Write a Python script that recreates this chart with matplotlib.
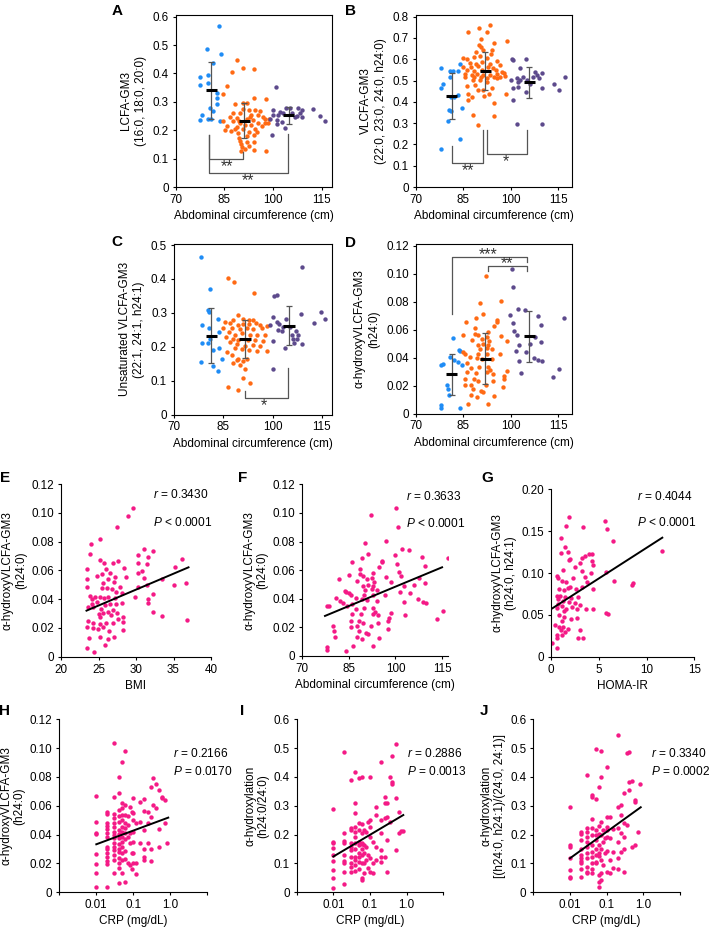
import numpy as np
import matplotlib
matplotlib.use('Agg')
import matplotlib.pyplot as plt
from matplotlib.ticker import NullLocator

plt.rcParams['font.family'] = ['Liberation Sans', 'DejaVu Sans']
plt.rcParams['mathtext.fontset'] = 'custom'
plt.rcParams['mathtext.rm'] = 'Liberation Sans'
plt.rcParams['mathtext.it'] = 'Liberation Sans:italic'

# ---- data ---------------------------------------------------------------
# A: LCFA-GM3 vs abdominal circumference, three waist groups
a_blue = [(83.5, 0.567), (79.6, 0.485), (83.9, 0.468), (81.6, 0.438), (77.5, 0.386), (80.1, 0.393),
          (77.5, 0.359), (80.1, 0.365), (82.8, 0.332), (82.6, 0.314), (82.8, 0.292), (80.6, 0.280),
          (81.4, 0.268), (78.1, 0.252), (80.1, 0.241), (80.8, 0.241), (77.5, 0.235), (83.7, 0.232)]
a_orange = [(88.8, 0.449), (87.5, 0.404), (90.6, 0.418), (94.1, 0.414), (85.9, 0.355), (84.5, 0.329),
            (94.1, 0.315), (98.0, 0.309), (90.6, 0.296), (92.0, 0.296), (88.2, 0.292), (90.8, 0.276),
            (92.7, 0.271), (94.4, 0.273), (96.0, 0.268), (87.7, 0.262), (89.7, 0.259), (93.3, 0.255),
            (95.3, 0.253), (96.8, 0.247), (98.9, 0.241), (86.7, 0.247), (89.0, 0.244), (91.9, 0.238),
            (93.9, 0.235), (95.5, 0.226), (97.5, 0.224), (87.8, 0.233), (84.5, 0.233), (89.7, 0.226),
            (91.3, 0.218), (93.3, 0.218), (85.7, 0.214), (88.8, 0.212), (90.8, 0.206), (94.4, 0.206),
            (96.5, 0.214), (98.5, 0.224), (85.1, 0.202), (86.9, 0.196), (89.2, 0.191), (92.6, 0.194),
            (95.1, 0.194), (89.5, 0.174), (92.0, 0.179), (94.1, 0.182), (89.8, 0.162), (91.9, 0.159),
            (94.1, 0.159), (90.0, 0.151), (92.6, 0.144), (90.5, 0.141), (91.5, 0.134), (94.2, 0.129),
            (90.0, 0.126), (98.0, 0.126), (88.2, 0.206), (92.8, 0.245), (97.5, 0.238), (89.5, 0.233)]
a_purple = [(100.9, 0.351), (104.0, 0.280), (105.2, 0.280), (100.1, 0.271), (102.1, 0.264), (101.6, 0.253),
            (103.0, 0.259), (99.1, 0.241), (101.1, 0.235), (102.7, 0.229), (101.3, 0.221), (106.0, 0.259),
            (107.3, 0.249), (108.3, 0.259), (108.8, 0.271), (108.9, 0.245), (107.8, 0.280), (103.7, 0.209),
            (99.6, 0.182), (112.4, 0.276), (114.5, 0.249), (116.0, 0.232), (106.7, 0.245), (99.9, 0.253)]
a_pos = [80.9, 91.1, 104.8]
a_mean = [0.340, 0.233, 0.252]
a_sd = [0.099, 0.062, 0.029]
a_brackets = [(80.2, 90.8, 0.182, 0.097, 0.124), (80.2, 104.5, 0.182, 0.051, 0.188)]
a_stars = [(85.7, 0.071, '**'), (92.4, 0.023, '**')]

# B: VLCFA-GM3
b_blue = [(78.0, 0.560), (78.5, 0.486), (78.0, 0.463), (80.8, 0.543), (81.9, 0.544), (83.5, 0.546),
          (84.0, 0.580), (80.8, 0.518), (81.0, 0.424), (82.1, 0.424), (83.5, 0.431), (80.6, 0.361),
          (81.0, 0.356), (80.1, 0.311), (84.7, 0.373), (84.0, 0.224), (78.0, 0.180)]
b_orange = [(93.4, 0.761), (90.1, 0.745), (86.4, 0.726), (92.4, 0.729), (90.6, 0.693), (94.7, 0.678),
            (98.7, 0.687), (89.9, 0.667), (90.6, 0.656), (89.1, 0.635), (91.1, 0.643), (94.2, 0.643),
            (93.7, 0.624), (88.5, 0.612), (90.3, 0.615), (85.0, 0.604), (86.1, 0.599), (92.4, 0.604),
            (95.8, 0.591), (87.1, 0.584), (89.0, 0.577), (90.8, 0.588), (93.4, 0.580), (85.0, 0.565),
            (87.6, 0.565), (89.8, 0.568), (92.9, 0.565), (94.5, 0.557), (96.6, 0.573), (86.3, 0.549),
            (88.4, 0.546), (90.8, 0.549), (95.2, 0.549), (97.1, 0.541), (85.6, 0.530), (87.7, 0.525),
            (89.2, 0.530), (91.3, 0.525), (93.4, 0.525), (95.6, 0.533), (97.7, 0.536), (98.2, 0.521),
            (85.6, 0.515), (88.4, 0.515), (90.5, 0.515), (92.6, 0.510), (94.7, 0.515), (96.6, 0.515),
            (88.2, 0.505), (90.3, 0.502), (92.4, 0.494), (95.6, 0.510), (88.7, 0.478), (94.2, 0.463),
            (86.6, 0.439), (86.6, 0.411), (87.7, 0.424), (91.6, 0.428), (93.0, 0.435), (98.5, 0.435),
            (88.2, 0.337), (94.7, 0.395), (94.7, 0.333), (89.6, 0.290), (86.1, 0.474), (89.8, 0.455),
            (91.3, 0.458)]
b_purple = [(100.3, 0.599), (100.8, 0.596), (102.9, 0.557), (104.8, 0.599), (107.6, 0.541), (108.2, 0.525),
            (109.7, 0.536), (109.0, 0.510), (106.9, 0.515), (100.0, 0.505), (101.9, 0.510), (102.4, 0.494),
            (102.9, 0.502), (104.0, 0.518), (106.1, 0.486), (104.8, 0.447), (100.8, 0.467), (102.4, 0.471),
            (109.7, 0.463), (100.8, 0.408), (113.6, 0.486), (115.3, 0.455), (117.1, 0.518), (101.9, 0.298),
            (109.7, 0.295), (105.0, 0.502)]
b_pos = [81.4, 91.9, 105.8]
b_mean = [0.428, 0.546, 0.491]
b_sd = [0.109, 0.088, 0.075]
b_brackets = [(81.4, 91.3, 0.193, 0.115, 0.267), (92.4, 105.0, 0.267, 0.157, 0.267)]
b_stars = [(86.4, 0.078, '**'), (98.4, 0.117, '*')]

# C: unsaturated VLCFA-GM3
c_blue = [(78.2, 0.466), (81.0, 0.370), (83.5, 0.281), (80.5, 0.308), (80.7, 0.301), (83.8, 0.242),
          (78.4, 0.210), (80.3, 0.210), (81.0, 0.222), (82.0, 0.190), (83.8, 0.197), (84.5, 0.163),
          (78.2, 0.154), (82.0, 0.142), (83.5, 0.129), (80.8, 0.254), (78.6, 0.265)]
c_orange = [(86.4, 0.404), (88.3, 0.392), (94.5, 0.357), (89.6, 0.293), (88.1, 0.279), (90.9, 0.281),
            (92.7, 0.279), (94.2, 0.279), (85.5, 0.274), (87.1, 0.269), (89.4, 0.264), (91.1, 0.266),
            (92.9, 0.266), (95.0, 0.269), (96.2, 0.264), (98.3, 0.262), (85.0, 0.254), (87.6, 0.254),
            (90.1, 0.252), (92.2, 0.254), (94.2, 0.252), (96.7, 0.254), (86.7, 0.242), (88.7, 0.236),
            (90.8, 0.239), (93.2, 0.234), (95.2, 0.234), (97.7, 0.236), (85.9, 0.229), (88.1, 0.222),
            (89.6, 0.219), (92.4, 0.219), (94.7, 0.219), (97.2, 0.217), (87.1, 0.213), (89.3, 0.207),
            (91.6, 0.203), (94.0, 0.205), (96.2, 0.203), (88.5, 0.195), (90.6, 0.193), (92.7, 0.190),
            (95.2, 0.187), (98.3, 0.188), (86.1, 0.185), (87.6, 0.175), (89.6, 0.165), (92.2, 0.163),
            (89.1, 0.160), (91.1, 0.157), (88.1, 0.151), (90.1, 0.146), (91.6, 0.133), (91.1, 0.108),
            (93.0, 0.094), (89.6, 0.072), (86.4, 0.080)]
c_purple = [(108.9, 0.434), (100.5, 0.350), (101.3, 0.354), (114.7, 0.303), (108.7, 0.297), (116.0, 0.281),
            (112.5, 0.271), (100.1, 0.288), (104.1, 0.281), (101.5, 0.272), (102.1, 0.268), (99.3, 0.264),
            (103.1, 0.259), (105.4, 0.259), (102.8, 0.246), (107.2, 0.246), (107.9, 0.234), (105.9, 0.236),
            (106.2, 0.224), (107.4, 0.222), (108.9, 0.207), (100.1, 0.217), (106.4, 0.210), (100.1, 0.134),
            (103.8, 0.195), (101.8, 0.249)]
c_pos = [81.3, 91.6, 105.0]
c_mean = [0.232, 0.224, 0.262]
c_sd = [0.081, 0.056, 0.058]
c_brackets = [(91.6, 104.6, 0.070, 0.050, 0.136)]
c_stars = [(97.4, 0.027, '*')]

# D: alpha-hydroxy VLCFA-GM3 (h24:0) -- same subjects are shown in pink in F
d_blue = [(78.0, 0.0349), (78.5, 0.0352), (81.9, 0.0539), (83.8, 0.0456), (84.0, 0.0448), (80.8, 0.0404),
          (82.1, 0.0385), (83.2, 0.0368), (84.5, 0.0349), (79.8, 0.0207), (80.3, 0.0178), (80.5, 0.0135),
          (78.0, 0.0064), (78.0, 0.0040), (84.0, 0.0036)]
d_orange = [(92.2, 0.0986), (90.3, 0.0789), (96.8, 0.0801), (91.1, 0.0713), (89.1, 0.0682), (85.9, 0.0654),
            (95.8, 0.0665), (95.8, 0.0654), (88.6, 0.0611), (94.7, 0.0623), (92.7, 0.0582), (88.6, 0.0570),
            (85.0, 0.0563), (96.9, 0.0551), (89.5, 0.0558), (90.8, 0.0535), (92.4, 0.0547), (98.7, 0.0518),
            (87.7, 0.0523), (93.2, 0.0518), (89.5, 0.0492), (91.3, 0.0499), (92.9, 0.0492), (85.0, 0.0440),
            (85.6, 0.0428), (90.3, 0.0463), (92.4, 0.0468), (94.0, 0.0459), (89.8, 0.0428), (92.6, 0.0428),
            (96.6, 0.0428), (87.2, 0.0404), (89.3, 0.0397), (90.9, 0.0392), (94.0, 0.0387), (86.1, 0.0364),
            (87.4, 0.0326), (89.9, 0.0333), (92.9, 0.0333), (93.4, 0.0309), (92.6, 0.0297), (98.7, 0.0302),
            (86.1, 0.0297), (88.9, 0.0292), (94.5, 0.0285), (88.4, 0.0245), (89.5, 0.0233), (85.6, 0.0245),
            (94.5, 0.0231), (97.9, 0.0269), (97.7, 0.0245), (87.5, 0.0207), (88.1, 0.0178), (85.6, 0.0202),
            (90.5, 0.0162), (92.2, 0.0207), (97.6, 0.0188), (87.5, 0.0135), (89.3, 0.0119), (91.3, 0.0154),
            (94.8, 0.0124), (86.4, 0.0071), (92.9, 0.0071)]
d_purple = [(100.3, 0.1034), (100.8, 0.0903), (99.8, 0.0706), (102.2, 0.0749), (104.5, 0.0741), (100.6, 0.0646),
            (101.0, 0.0587), (101.9, 0.0558), (108.5, 0.0694), (109.4, 0.0630), (116.8, 0.0682), (102.7, 0.0492),
            (101.6, 0.0444), (106.1, 0.0499), (107.5, 0.0547), (109.4, 0.0511), (104.8, 0.0440), (107.3, 0.0397),
            (108.7, 0.0380), (109.7, 0.0373), (102.7, 0.0375), (103.1, 0.0290), (113.4, 0.0261), (115.3, 0.0316)]
d_pos = [81.4, 91.9, 105.8]
d_mean = [0.0280, 0.0392, 0.0551]
d_sd = [0.0147, 0.0182, 0.0184]
d_brackets = [(81.4, 105.0, 0.0708, 0.1122, 0.1081), (92.7, 105.0, 0.1022, 0.1058, 0.1022)]
d_stars = [(92.7, 0.1134, '***'), (98.7, 0.1070, '**')]

# E: vs BMI
e_pts = [(29.6, 0.1031), (28.9, 0.0978), (27.5, 0.0899), (25.2, 0.0815), (24.0, 0.0781), (23.8, 0.0713),
         (31.1, 0.0746), (32.2, 0.0737), (30.3, 0.0707), (31.6, 0.0690), (25.2, 0.0672), (25.7, 0.0653),
         (27.6, 0.0667), (26.9, 0.0653), (36.1, 0.0676), (28.4, 0.0618), (26.0, 0.0607), (23.4, 0.0607),
         (30.2, 0.0649), (31.4, 0.0644), (35.2, 0.0621), (25.4, 0.0574), (26.5, 0.0584), (30.2, 0.0584),
         (24.8, 0.0561), (28.7, 0.0551), (30.8, 0.0598), (26.3, 0.0540), (27.0, 0.0521), (25.6, 0.0510),
         (23.4, 0.0537), (27.2, 0.0556), (35.0, 0.0498), (36.7, 0.0510), (33.5, 0.0537), (31.0, 0.0544),
         (23.4, 0.0486), (25.4, 0.0475), (26.1, 0.0475), (26.8, 0.0468), (27.3, 0.0452), (27.8, 0.0486),
         (30.2, 0.0486), (31.4, 0.0498), (28.1, 0.0440), (31.6, 0.0398), (31.6, 0.0371), (32.2, 0.0435),
         (29.9, 0.0417), (23.8, 0.0422), (24.5, 0.0417), (24.1, 0.0398), (25.2, 0.0417), (25.7, 0.0405),
         (26.3, 0.0417), (27.2, 0.0405), (28.1, 0.0371), (24.1, 0.0366), (24.8, 0.0382), (25.9, 0.0359),
         (26.5, 0.0366), (27.3, 0.0366), (24.3, 0.0347), (25.3, 0.0329), (26.2, 0.0313), (26.9, 0.0324),
         (23.6, 0.0343), (32.2, 0.0313), (33.4, 0.0285), (25.1, 0.0296), (25.6, 0.0301), (26.6, 0.0290),
         (27.4, 0.0306), (28.2, 0.0278), (23.6, 0.0250), (24.2, 0.0236), (25.2, 0.0227), (26.0, 0.0232),
         (26.9, 0.0236), (27.6, 0.0259), (28.2, 0.0243), (36.8, 0.0255), (23.5, 0.0204), (24.3, 0.0197),
         (24.9, 0.0190), (25.6, 0.0208), (26.4, 0.0181), (28.2, 0.0185), (23.7, 0.0132), (25.2, 0.0139),
         (26.2, 0.0120), (27.0, 0.0134), (25.8, 0.0081), (23.5, 0.0058), (24.4, 0.0035), (25.2, 0.0278)]
e_fit = ([23.4, 37.0], [0.0320, 0.0621])
e_stats = ['$\\mathit{r}$ = 0.3430', '$\\mathit{P}$ < 0.0001']

f_fit = ([77.3, 115.0], [0.0280, 0.0620])
f_stats = ['$\\mathit{r}$ = 0.3633', '$\\mathit{P}$ < 0.0001']

# G: vs HOMA-IR
g_pts = [(1.9, 0.1665), (1.6, 0.1562), (5.65, 0.1625), (3.3, 0.1546), (1.05, 0.1422), (5.9, 0.1526),
         (6.5, 0.1386), (1.5, 0.1315), (1.8, 0.1255), (1.05, 0.1243), (4.25, 0.1227), (3.97, 0.1227),
         (3.6, 0.1203), (1.9, 0.1155), (2.0, 0.1163), (3.2, 0.1175), (4.3, 0.1147), (3.0, 0.1124),
         (4.35, 0.1096), (11.65, 0.1263), (0.6, 0.0964), (0.77, 0.0944), (1.1, 0.0904), (1.6, 0.0896),
         (2.3, 0.0944), (2.5, 0.1076), (3.2, 0.1028), (3.6, 0.0956), (4.2, 0.1004), (1.3, 0.1036),
         (3.8, 0.0896), (6.6, 0.0904), (5.8, 0.1016), (4.4, 0.0805), (8.6, 0.0884), (8.5, 0.0857),
         (0.87, 0.0805), (1.4, 0.0797), (2.0, 0.0829), (1.75, 0.0817), (2.6, 0.0805), (3.2, 0.0837),
         (0.6, 0.0725), (0.94, 0.0725), (1.46, 0.0717), (2.1, 0.0697), (2.8, 0.0717), (0.77, 0.0685),
         (1.3, 0.0669), (1.9, 0.0657), (2.5, 0.0645), (3.0, 0.0618), (0.7, 0.0629), (1.1, 0.0606),
         (1.6, 0.0566), (0.6, 0.0578), (1.4, 0.0550), (2.2, 0.0598), (2.7, 0.0566), (3.7, 0.0566),
         (4.4, 0.0570), (5.8, 0.0526), (6.0, 0.0510), (0.87, 0.0498), (1.4, 0.0478), (2.1, 0.0450),
         (2.7, 0.0458), (1.1, 0.0430), (0.4, 0.0378), (0.84, 0.0359), (1.3, 0.0351), (1.8, 0.0327),
         (3.0, 0.0319), (1.05, 0.0319), (1.46, 0.0299), (0.6, 0.0259), (1.2, 0.0259), (2.8, 0.0227),
         (3.3, 0.0227), (0.6, 0.0227), (0.14, 0.0167), (0.6, 0.0100)]
g_fit = ([0.14, 11.65], [0.0578, 0.1422])
g_stats = ['$\\mathit{r}$ = 0.4044', '$\\mathit{P}$ < 0.0001']

# H: h24:0 vs CRP
h_crp = [0.01] * 8 + [0.02] * 14 + [0.03] * 15 + [0.04] * 15 + [0.05] * 13 + [0.06] * 10 + \
        [0.07] * 4 + [0.08] * 4 + [0.09] * 3 + [0.1] * 7 + [0.12] * 3 + [0.15] * 3 + [0.2] * 6 + \
        [0.25] * 3 + [0.3] * 4 + [0.35] * 2 + [0.4] * 2 + [0.5] * 3 + [0.6] * 2 + [0.7] * 2 + [0.8]
h_val = [0.0668, 0.049, 0.0414, 0.0405, 0.0264, 0.0197, 0.0136, 0.0039,
         0.056, 0.0541, 0.0479, 0.046, 0.0437, 0.0414, 0.0386, 0.0317, 0.0298, 0.0271, 0.0247, 0.022, 0.0197, 0.0035,
         0.1034, 0.0659, 0.0543, 0.0513, 0.0479, 0.0451, 0.0421, 0.0398, 0.0375, 0.0345, 0.0317, 0.0294, 0.0259, 0.0224, 0.0136,
         0.0798, 0.0691, 0.0571, 0.0529, 0.049, 0.0432, 0.0405, 0.0375, 0.0335, 0.0298, 0.0277, 0.0236, 0.0201, 0.0171, 0.0067,
         0.0906, 0.0622, 0.0583, 0.0536, 0.0502, 0.0451, 0.0421, 0.0386, 0.0351, 0.0317, 0.0275, 0.0224, 0.0136,
         0.0983, 0.0606, 0.0536, 0.0479, 0.0444, 0.0409, 0.0368, 0.0289, 0.0229, 0.0074,
         0.0529, 0.0467, 0.0386, 0.0201,
         0.059, 0.0409, 0.0345, 0.019,
         0.056, 0.0271, 0.016,
         0.0652, 0.0548, 0.0502, 0.0421, 0.0351, 0.0271, 0.0206,
         0.0479, 0.0206, 0.0127,
         0.0629, 0.049, 0.034,
         0.0645, 0.0566, 0.0432, 0.0298, 0.0247, 0.0224,
         0.0557, 0.0479, 0.034,
         0.0733, 0.0525, 0.0298, 0.022,
         0.0791, 0.0606,
         0.0751, 0.0583,
         0.071, 0.0437, 0.0317,
         0.0664, 0.0652,
         0.064, 0.0479,
         0.0345]
h_fit = ([0.01, 0.88], [0.0333, 0.0518])
h_stats = ['$\\mathit{r}$ = 0.2166', '$\\mathit{P}$ = 0.0170']

# I: alpha-hydroxylation (h24:0/24:0) vs CRP
i_crp = [0.01] * 9 + [0.02] * 9 + [0.03] * 10 + [0.04] * 12 + [0.05] * 9 + [0.06] * 10 + \
        [0.07] * 5 + [0.08] * 3 + [0.09] * 3 + [0.1] * 6 + [0.12] * 3 + [0.15] * 4 + [0.2] * 6 + \
        [0.25] * 4 + [0.3] * 4 + [0.35] * 2 + [0.4] * 3 + [0.5] * 3 + [0.6] * 2 + [0.7] + [0.8]
i_val = [0.288, 0.176, 0.17, 0.153, 0.129, 0.11, 0.077, 0.049, 0.014,
         0.488, 0.205, 0.179, 0.17, 0.129, 0.11, 0.103, 0.072, 0.028,
         0.39, 0.222, 0.216, 0.172, 0.158, 0.147, 0.124, 0.101, 0.089, 0.072,
         0.416, 0.309, 0.274, 0.228, 0.21, 0.193, 0.17, 0.149, 0.124, 0.112, 0.095, 0.074,
         0.395, 0.239, 0.216, 0.176, 0.164, 0.135, 0.124, 0.106, 0.08,
         0.401, 0.237, 0.205, 0.172, 0.168, 0.149, 0.129, 0.101, 0.049, 0.043,
         0.216, 0.164, 0.135, 0.101, 0.066,
         0.21, 0.158, 0.112,
         0.245, 0.129, 0.083,
         0.401, 0.251, 0.228, 0.193, 0.118, 0.072,
         0.176, 0.068, 0.101,
         0.295, 0.268, 0.158, 0.112,
         0.453, 0.251, 0.205, 0.147, 0.124, 0.106,
         0.332, 0.309, 0.257, 0.124,
         0.309, 0.262, 0.182, 0.072,
         0.399, 0.245,
         0.471, 0.384, 0.376,
         0.513, 0.326, 0.145,
         0.28, 0.205,
         0.214,
         0.214]
i_fit = ([0.01, 0.81], [0.124, 0.268])
i_stats = ['$\\mathit{r}$ = 0.2886', '$\\mathit{P}$ = 0.0013']

# J: alpha-hydroxylation [(h24:0, h24:1)/(24:0, 24:1)] vs CRP
j_crp = [0.01] * 7 + [0.02] * 10 + [0.03] * 11 + [0.04] * 11 + [0.05] * 9 + [0.06] * 9 + \
        [0.07] * 8 + [0.08] * 3 + [0.09] * 2 + [0.1] * 7 + [0.12] * 4 + [0.15] * 3 + [0.2] * 6 + \
        [0.25] * 4 + [0.3] * 5 + [0.35] * 2 + [0.4] * 3 + [0.5] * 2 + [0.6] * 3 + [0.7] + [0.8]
j_val = [0.295, 0.164, 0.158, 0.118, 0.077, 0.054, 0.049,
         0.21, 0.202, 0.182, 0.149, 0.129, 0.118, 0.11, 0.103, 0.08, 0.052,
         0.407, 0.222, 0.21, 0.191, 0.176, 0.158, 0.135, 0.118, 0.089, 0.072, 0.066,
         0.338, 0.332, 0.253, 0.222, 0.199, 0.164, 0.141, 0.124, 0.103, 0.08, 0.068,
         0.496, 0.323, 0.216, 0.199, 0.182, 0.149, 0.129, 0.106, 0.101,
         0.366, 0.23, 0.202, 0.164, 0.135, 0.126, 0.06, 0.034, 0.02,
         0.491, 0.399, 0.245, 0.199, 0.149, 0.112, 0.066, 0.043,
         0.216, 0.176, 0.095,
         0.187, 0.135,
         0.436, 0.262, 0.228, 0.216, 0.193, 0.143, 0.072,
         0.26, 0.187, 0.112, 0.066,
         0.218, 0.141, 0.083,
         0.546, 0.295, 0.222, 0.176, 0.118, 0.08,
         0.303, 0.268, 0.205, 0.141,
         0.343, 0.242, 0.193, 0.149, 0.072,
         0.482, 0.234,
         0.488, 0.384, 0.355,
         0.387, 0.158,
         0.32, 0.314, 0.164,
         0.21,
         0.376]
j_fit = ([0.01, 0.85], [0.118, 0.295])
j_stats = ['$\\mathit{r}$ = 0.3340', '$\\mathit{P}$ = 0.0002']

waist_ticks = [70, 85, 100, 115]
waist_label = 'Abdominal circumference (cm)'
crp_ticks = [0.001, 0.01, 0.1, 1, 10]
crp_ticklabels = ['', '0.01', '0.1', '1.0', '']

# ---- drawing ---------------------------------------------------------------
W, H = 709, 932
BLUE = '#1f8cf5'
ORANGE = '#ff6a14'
PURPLE = '#5d4a8c'
PINK = '#f41a86'
GREY = '#555555'
TICK_FS = 8.4
LAB_FS = 8.5

fig = plt.figure(figsize=(W / 100, H / 100), dpi=100)


def px_axes(l, t, r, b):
    return fig.add_axes([l / W, 1 - b / H, (r - l) / W, (b - t) / H])


def style(ax, box):
    for side in ['top', 'right']:
        ax.spines[side].set_visible(box)
    for sp in ax.spines.values():
        sp.set_linewidth(0.8)
    ax.tick_params(direction='out', length=2.5, width=0.8, labelsize=TICK_FS, pad=2.5)


def fmt_ticks(ax, xt, yt, ylabels):
    ax.set_xticks(xt)
    ax.set_yticks(yt)
    ax.set_yticklabels(ylabels)


def group_panel(ax, groups, pos, mean, sd, brackets, stars):
    for pts, c in zip(groups, [BLUE, ORANGE, PURPLE]):
        x, y = zip(*pts)
        ax.scatter(x, y, s=10, color=c, lw=0, zorder=2)
    ax.errorbar(pos, mean, yerr=sd, fmt='none', ecolor=GREY, elinewidth=0.9,
                capsize=2.2, capthick=0.9, zorder=3)
    ax.hlines(mean, np.array(pos) - 1.7, np.array(pos) + 1.7, color='black', lw=2.2, zorder=4)
    for x1, x2, y1, ybar, y2 in brackets:
        ax.plot([x1, x1, x2, x2], [y1, ybar, ybar, y2], color=GREY, lw=0.9)
    for x, y, s in stars:
        ax.text(x, y, s, ha='center', va='center', fontsize=11.5, color='#333333')


def corr_panel(ax, x, y, fit, stats, tx, ty):
    ax.scatter(x, y, s=10, color=PINK, lw=0, zorder=2)
    ax.plot(fit[0], fit[1], color='black', lw=1.4, zorder=3)
    for s, yy in zip(stats, ty):
        ax.text(tx, yy, s, ha='left', va='center', fontsize=8.6)


def letter(x, y, s):
    fig.text(x / W, 1 - y / H, s, fontsize=11, fontweight='bold', ha='center', va='center')


# A
ax = px_axes(175.7, 15, 332, 187)
style(ax, True)
group_panel(ax, [a_blue, a_orange, a_purple], a_pos, a_mean, a_sd, a_brackets, a_stars)
ax.set_xlim(70, 118.2)
ax.set_ylim(0, 0.606)
fmt_ticks(ax, waist_ticks, [0, 0.1, 0.2, 0.3, 0.4, 0.5, 0.6], ['0', '0.1', '0.2', '0.3', '0.4', '0.5', '0.6'])
ax.set_xlabel(waist_label, fontsize=LAB_FS, labelpad=3)
ax.set_ylabel('LCFA-GM3\n(16:0, 18:0, 20:0)', fontsize=LAB_FS, labelpad=4, linespacing=1.3)
letter(117, 11, 'A')

# B
ax = px_axes(415.7, 15, 572.3, 187)
style(ax, True)
group_panel(ax, [b_blue, b_orange, b_purple], b_pos, b_mean, b_sd, b_brackets, b_stars)
ax.set_xlim(70, 119.4)
ax.set_ylim(0, 0.808)
fmt_ticks(ax, waist_ticks, [0, 0.1, 0.2, 0.3, 0.4, 0.5, 0.6, 0.7, 0.8],
          ['0', '0.1', '0.2', '0.3', '0.4', '0.5', '0.6', '0.7', '0.8'])
ax.set_xlabel(waist_label, fontsize=LAB_FS, labelpad=3)
ax.set_ylabel('VLCFA-GM3\n(22:0, 23:0, 24:0, h24:0)', fontsize=LAB_FS, labelpad=4, linespacing=1.3)
letter(351, 11, 'B')

# C
ax = px_axes(174, 244, 332.3, 414.5)
style(ax, True)
group_panel(ax, [c_blue, c_orange, c_purple], c_pos, c_mean, c_sd, c_brackets, c_stars)
ax.set_xlim(70, 118.2)
ax.set_ylim(0, 0.503)
fmt_ticks(ax, waist_ticks, [0, 0.1, 0.2, 0.3, 0.4, 0.5], ['0', '0.1', '0.2', '0.3', '0.4', '0.5'])
ax.set_xlabel(waist_label, fontsize=LAB_FS, labelpad=3)
ax.set_ylabel('Unsaturated VLCFA-GM3\n(22:1, 24:1, h24:1)', fontsize=LAB_FS, labelpad=4, linespacing=1.3)
letter(117, 242, 'C')

# D
ax = px_axes(415.7, 244, 572.3, 413.5)
style(ax, True)
group_panel(ax, [d_blue, d_orange, d_purple], d_pos, d_mean, d_sd, d_brackets, d_stars)
ax.set_xlim(70, 119.4)
ax.set_ylim(0, 0.1212)
h24_yt = [0, 0.02, 0.04, 0.06, 0.08, 0.10, 0.12]
h24_yl = ['0', '0.02', '0.04', '0.06', '0.08', '0.10', '0.12']
fmt_ticks(ax, waist_ticks, h24_yt, h24_yl)
ax.set_xlabel(waist_label, fontsize=LAB_FS, labelpad=3)
ax.set_ylabel('α-hydroxyVLCFA-GM3\n(h24:0)', fontsize=LAB_FS, labelpad=4, linespacing=1.3)
letter(351, 243, 'D')

# E
ax = px_axes(61, 484, 211, 656.7)
style(ax, False)
ex, ey = zip(*e_pts)
corr_panel(ax, ex, ey, e_fit, e_stats, 32.2, [0.1124, 0.0931])
ax.set_xlim(20, 40)
ax.set_ylim(0, 0.12)
fmt_ticks(ax, [20, 25, 30, 35, 40], h24_yt, h24_yl)
ax.set_xlabel('BMI', fontsize=LAB_FS, labelpad=3)
ax.set_ylabel('α-hydroxyVLCFA-GM3\n(h24:0)', fontsize=LAB_FS, labelpad=3, linespacing=1.15)
letter(5, 478, 'E')

# F
ax = px_axes(302.3, 484.3, 448.3, 656)
style(ax, False)
fx, fy = zip(*(d_blue + d_orange + d_purple))
corr_panel(ax, fx, fy, f_fit, f_stats, 103.5, [0.1114, 0.0927])
ax.set_xlim(70, 117)
ax.set_ylim(0, 0.12)
fmt_ticks(ax, waist_ticks, h24_yt, h24_yl)
ax.set_xlabel(waist_label, fontsize=LAB_FS, labelpad=3)
ax.set_ylabel('α-hydroxyVLCFA-GM3\n(h24:0)', fontsize=LAB_FS, labelpad=3, linespacing=1.15)
letter(243, 478, 'F')

# G
ax = px_axes(551, 489.3, 694.3, 656.7)
style(ax, False)
gx, gy = zip(*g_pts)
corr_panel(ax, gx, gy, g_fit, g_stats, 8.96, [0.1912, 0.1602])
ax.set_xlim(0, 15)
ax.set_ylim(0, 0.2)
fmt_ticks(ax, [0, 5, 10, 15], [0, 0.05, 0.10, 0.15, 0.20], ['0', '0.05', '0.10', '0.15', '0.20'])
ax.set_xlabel('HOMA-IR', fontsize=LAB_FS, labelpad=3)
ax.set_ylabel('α-hydroxyVLCFA-GM3\n(h24:0, h24:1)', fontsize=LAB_FS, labelpad=3, linespacing=1.15)
letter(487, 478, 'G')

# H, I, J share the log CRP axis
crp_panels = [
    ((59.3, 719.3, 207.3, 892.3), h_crp, h_val, h_fit, h_stats, 1.16, [0.0964, 0.0837],
     (0, 0.12), h24_yt, h24_yl, 'α-hydroxyVLCFA-GM3\n(h24:0)', (5, 711, 'H')),
    ((296.7, 719.3, 443.3, 892.3), i_crp, i_val, i_fit, i_stats, 1.04, [0.482, 0.418],
     (0, 0.6), [0, 0.1, 0.2, 0.3, 0.4, 0.5, 0.6], ['0', '0.1', '0.2', '0.3', '0.4', '0.5', '0.6'],
     'α-hydroxylation\n(h24:0/24:0)', (242, 711, 'I')),
    ((533.3, 719.3, 680, 892.3), j_crp, j_val, j_fit, j_stats, 1.58, [0.482, 0.418],
     (0, 0.6), [0, 0.1, 0.2, 0.3, 0.4, 0.5, 0.6], ['0', '0.1', '0.2', '0.3', '0.4', '0.5', '0.6'],
     'α-hydroxylation\n[(h24:0, h24:1)/(24:0, 24:1)]', (484, 711, 'J')),
]
for rect, x, y, fit, stats, tx, ty, ylim, yt, yl, ylab, let in crp_panels:
    ax = px_axes(*rect)
    style(ax, False)
    ax.set_xscale('log')
    corr_panel(ax, x, y, fit, stats, tx, ty)
    ax.set_xlim(0.001, 10)
    ax.set_ylim(*ylim)
    ax.set_xticks(crp_ticks)
    ax.set_xticklabels(crp_ticklabels)
    ax.xaxis.set_minor_locator(NullLocator())
    ax.set_yticks(yt)
    ax.set_yticklabels(yl)
    ax.set_xlabel('CRP (mg/dL)', fontsize=LAB_FS, labelpad=3)
    ax.set_ylabel(ylab, fontsize=LAB_FS, labelpad=3, linespacing=1.15)
    letter(*let)

fig.savefig('out.png', dpi=100)
